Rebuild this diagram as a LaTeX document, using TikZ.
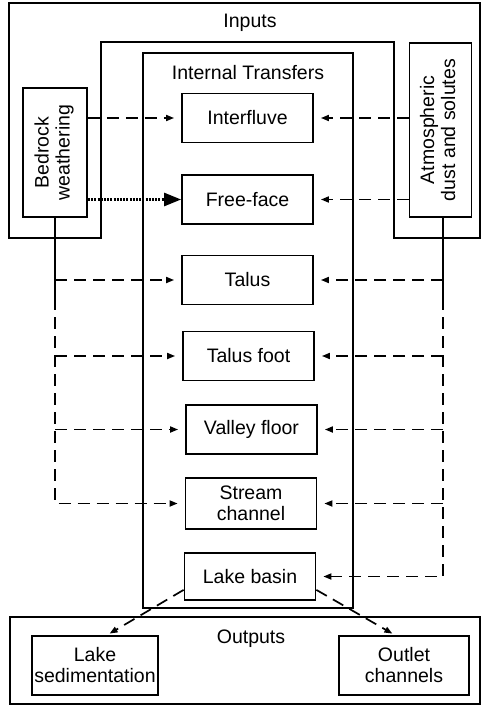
\documentclass[tikz,border=0pt]{standalone}
\usepackage{fontspec}
\setmainfont{Liberation Sans}
\usepackage{graphicx}
\usetikzlibrary{arrows.meta, positioning}

\begin{document}
\begin{tikzpicture}[x=1pt, y=-1pt, line join=miter,
		font=\fontsize{19.5}{21}\selectfont,
		frame/.style={draw, line width=1.8pt},
		box/.style={draw, line width=1.8pt, minimum width=131pt, minimum height=49pt, inner sep=0pt, align=center},
		flow/.style={line width=1.7pt, dash pattern=on 12pt off 7pt, -{Triangle[length=8pt, width=6pt]}, shorten >=7pt},
		dotflow/.style={line width=2.6pt, dash pattern=on 2pt off 1.2pt, -{Triangle[length=17pt, width=13pt]}},
		feed/.style={line width=1.7pt}]
	\useasboundingbox (0,0) rectangle (482,706);

	% -- Frames --
	% Inputs
	\draw[frame] (9,3) -- (480,3) -- (480,238) -- (394,238) -- (394,42) -- (101,42) -- (101,238) -- (9,238) -- cycle;
	\node[anchor=base] (inputs) at (250,28) {Inputs};
	% Internal transfers
	\draw[frame] (143,53) rectangle (353,608);
	\node[anchor=base] (internal) at (248,80) {Internal Transfers};
	% Outputs
	\draw[frame] (10,617) rectangle (480,704);
	\node[anchor=base] (outputs) at (251,643) {Outputs};

	% -- Sources --
	\node[box, minimum width=64pt, minimum height=129pt] (bedrock) at (55,152.5)
		{\rotatebox{90}{\begin{tabular}{@{}c@{}}Bedrock\\weathering\end{tabular}}};
	\node[box, minimum width=62pt, minimum height=174pt] (atmos) at (440.5,130)
		{\rotatebox{90}{\begin{tabular}{@{}c@{}}Atmospheric\\dust and solutes\end{tabular}}};

	% -- Landscape units --
	\node[box] (interfluve) at (247.5,118) {Interfluve};
	\node[box] (freeface) at (247.5,199.5) {Free-face};
	\node[box] (talus) at (247.5,280) {Talus};
	\node[box] (talusfoot) at (248.5,356) {Talus foot};
	\node[box] (valley) at (251.5,429.5) {Valley floor};
	\node[box, minimum height=51pt] (stream) at (251,503.5) {Stream\\channel};
	\node[box, minimum height=47pt] (lake) at (250,576.5) {Lake basin};

	% -- Sinks --
	\node[box, minimum width=126pt, minimum height=59pt] (lakesed) at (95,665.5) {Lake\\sedimentation};
	\node[box, minimum width=130pt, minimum height=59pt] (outlet) at (404,665.5) {Outlet\\channels};

	% -- Feeder lines --
	\coordinate (lsplit) at (55,298);
	\coordinate (rsplit) at (443,298);
	\draw[feed] (bedrock.south) -- (lsplit);
	\draw[feed] (rsplit |- atmos.south) -- (rsplit);

	% -- Transfers in --
	\draw[flow] (bedrock.east |- interfluve.west) -- (interfluve.west);
	\draw[dotflow] (bedrock.east |- freeface.west) -- (freeface.west);
	\draw[flow] (atmos.west |- interfluve.east) -- (interfluve.east);
	\draw[flow] (atmos.west |- freeface.east) -- (freeface.east);
	\foreach \unit in {talus, talusfoot, valley}
		\draw[flow] (lsplit |- \unit.west) -- (\unit.west);
	\draw[flow] (lsplit) -- (lsplit |- stream.west) -- (stream.west);
	\foreach \unit in {talus, talusfoot, valley, stream}
		\draw[flow] (rsplit |- \unit.east) -- (\unit.east);
	\draw[flow] (rsplit) -- (rsplit |- lake.east) -- (lake.east);

	% -- Transfers out --
	\draw[flow, shorten >=3pt] ([yshift=11pt]lake.south west) -- ([xshift=12pt]lakesed.north);
	\draw[flow, shorten >=3pt] ([yshift=11pt]lake.south east) -- ([xshift=-9pt]outlet.north);
\end{tikzpicture}
\end{document}
